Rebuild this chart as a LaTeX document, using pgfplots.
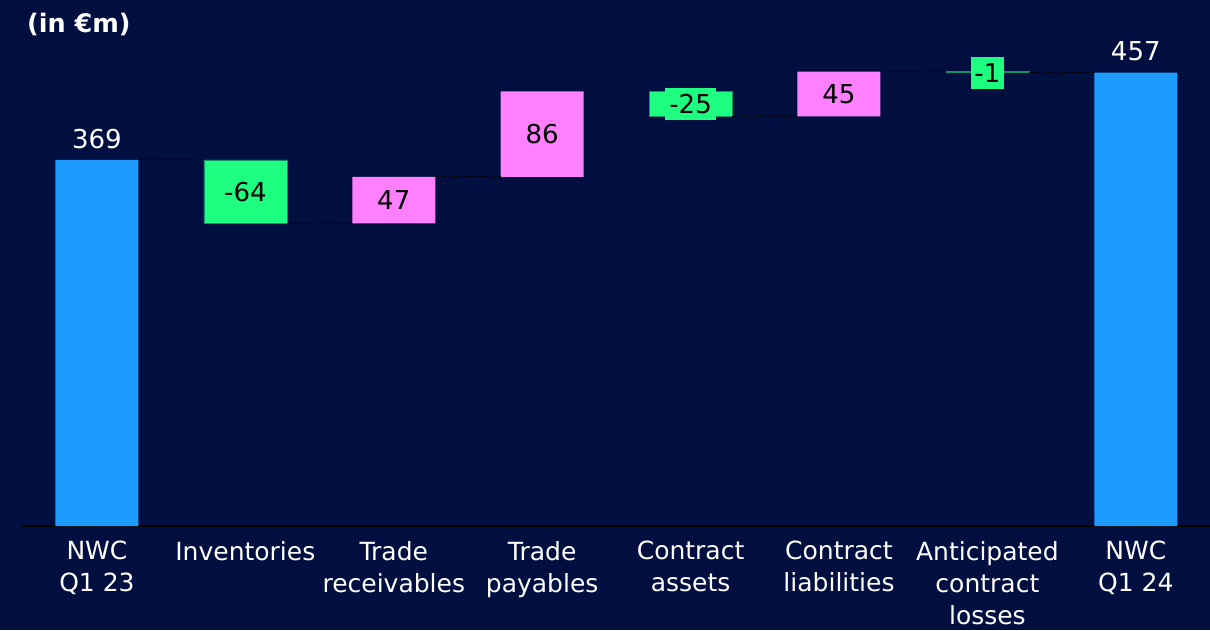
\documentclass[border=0pt]{standalone}
\usepackage{pgfplots}
\pgfplotsset{compat=1.18}
\usepackage{fontspec}
\setmainfont{DejaVu Sans}
\definecolor{bg}{RGB}{0,15,64}
\definecolor{wblue}{RGB}{30,155,255}
\definecolor{wgreen}{RGB}{30,255,130}
\definecolor{wpink}{RGB}{255,128,255}
\tikzset{conn/.style={black, line width=1pt, dash pattern=on 4pt off 3pt},
  vlab/.style={font=\fontsize{26}{26}\selectfont}}
\begin{document}
\begin{tikzpicture}[x=1pt,y=1pt]
\fill[bg] (0,0) rectangle (1210,630);
\node[white, font=\bfseries\fontsize{25.5}{30}\selectfont, anchor=base west, inner sep=0pt] at (27,597) {(in €m)};
\begin{axis}[
  at={(22pt,104pt)}, anchor=south west,
  scale only axis, width=1188pt, height=526pt,
  xmin=-0.505, xmax=7.5, ymin=0, ymax=530.2,
  ybar stacked, bar width=83pt,
  axis x line*=bottom, axis y line=none,
  x axis line style={black, line width=2pt, -},
  xtick={0,1,2,3,4,5,6,7},
  xticklabels={{NWC\\Q1 23},{Inventories},{Trade\\receivables},{Trade\\payables},{Contract\\assets},{Contract\\liabilities},{Anticipated\\contract\\losses},{NWC\\Q1 24}},
  major tick length=0pt,
  xticklabel style={text=white, font=\fontsize{25}{32.3}\selectfont, align=center, anchor=north, yshift=-11.5pt},
  ytick=\empty,
  clip=false,
]
\addplot[fill=bg, fill opacity=0, draw=none] coordinates {(0,0) (1,305) (2,305) (3,352) (4,413) (5,413) (6,457) (7,0)};
\addplot[fill=wblue, draw=none] coordinates {(0,369) (1,0) (2,0) (3,0) (4,0) (5,0) (6,0) (7,457)};
\addplot[fill=wgreen, draw=wgreen!55!bg, line width=0.6pt] coordinates {(0,0) (1,64) (2,0) (3,0) (4,25) (5,0) (6,1) (7,0)};
\addplot[fill=wpink, draw=none] coordinates {(0,0) (1,0) (2,47) (3,86) (4,0) (5,45) (6,0) (7,0)};

\coordinate (a0) at (axis cs:0.28,369); \coordinate (b0) at (axis cs:0.72,369);
\coordinate (a1) at (axis cs:1.28,305); \coordinate (b1) at (axis cs:1.72,305);
\coordinate (a2) at (axis cs:2.28,352); \coordinate (b2) at (axis cs:2.72,352);
\coordinate (a3) at (axis cs:3.28,438); \coordinate (b3) at (axis cs:3.72,438);
\coordinate (a4) at (axis cs:4.28,413); \coordinate (b4) at (axis cs:4.72,413);
\coordinate (a5) at (axis cs:5.28,458); \coordinate (b5) at (axis cs:5.72,458);
\coordinate (a6) at (axis cs:6.28,457); \coordinate (b6) at (axis cs:6.72,457);

\coordinate (l0) at (axis cs:0,369);
\coordinate (l7) at (axis cs:7,457);
\coordinate (l1) at (axis cs:1,337);
\coordinate (l2) at (axis cs:2,328.5);
\coordinate (l3) at (axis cs:3,395);
\coordinate (l4) at (axis cs:4,425.5);
\coordinate (l5) at (axis cs:5,435.5);
\coordinate (l6) at (axis cs:6,457);
\end{axis}
\foreach \i in {0,...,6} {\draw[conn] (a\i) -- (b\i);}
\node[vlab, text=white, anchor=south, yshift=8pt] at (l0) {369};
\node[vlab, text=white, anchor=south, yshift=8pt] at (l7) {457};
\node[vlab, text=black] at (l1) {-64};
\node[vlab, text=black] at (l2) {47};
\node[vlab, text=black] at (l3) {86};
\node[vlab, text=black, fill=wgreen, inner sep=4pt, minimum height=32pt] at (l4) {-25};
\node[vlab, text=black] at (l5) {45};
\node[vlab, text=black, fill=wgreen, inner sep=3.5pt, minimum height=32pt] at (l6) {-1};
\pgfresetboundingbox
\path (0,0) rectangle (1210,630);
\end{tikzpicture}
\end{document}
